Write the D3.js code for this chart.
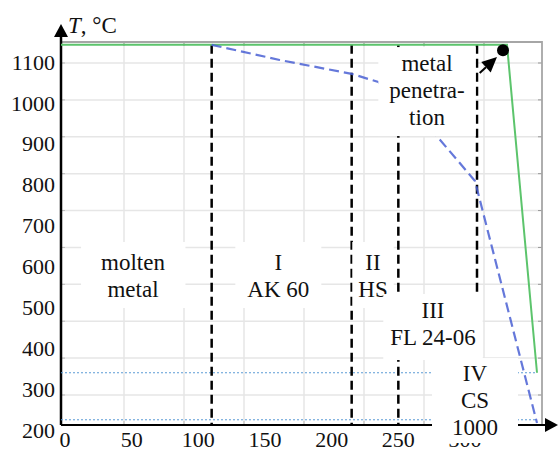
<!DOCTYPE html>
<html><head><meta charset="utf-8">
<script src="https://cdn.jsdelivr.net/npm/d3@7"></script>
<style>body{margin:0;background:#fff}svg{display:block}</style>
</head><body>
<svg id="chart" width="560" height="452"></svg>
<script>
// ---- data ----
const xTicks = [0, 50, 100, 150, 200, 250, 300];
const yTicks = [200, 300, 400, 500, 600, 700, 800, 900, 1000, 1100];
// underlying (background) chart grid values
const gridXValues = [50, 100, 150, 200, 250, 300, 350];
const gridYValues = [200, 300, 400, 500, 600, 700, 800, 900, 1000, 1100];
// green curve (molten metal front)
const greenX = [-3, 331.5, 354];
const greenT = [1142, 1142, 340];
// blue dashed curve
const blueX = [110, 161, 215, 235, 277, 307.5, 354];
const blueT = [1142, 1105, 1071, 1051, 926, 809, 217];
// layer boundaries
const boundaryX = [110, 215, 250, 309];
const boundaryTopT = 1142;
// horizontal reference levels
const levelT = [340, 225];
const levelX = [-3, 354];
// penetration point and arrow
const penX = 328.5, penT = 1129;
const arrowFrom = [311, 1073], arrowTo = [324, 1112];
// labels
const labelLines = [
  ["molten", "metal"],
  ["I", "AK 60"],
  ["II", "HS"],
  ["III", "FL 24-06"],
  ["IV", "CS", "1000"],
  ["metal", "penetra-", "tion"]
];
const labelX = [51, 160, 231, 276, 307.5, 271.5];
const labelT = [611, 611, 611, 493.5, 339.4, 1097.5];

// ---- layout ----
const svg = d3.select("#chart");
const plot = {left: 61, right: 542, top: 42, bottom: 425};
const x = d3.scaleLinear().domain([0, 300]).range([65, 465]);
const y = d3.scaleLinear().domain([200, 1100]).range([430, 62]);
const gx = d3.scaleLinear().domain([0, 400]).range([64, 544]);
const gy = d3.scaleLinear().domain([200, 1100]).range([395, 63]);
const font = "'Liberation Serif', 'Times New Roman', serif";

// grid
const g = svg.append("g");
g.selectAll(".gxl").data(gridXValues).join("line")
  .attr("x1", d => gx(d)).attr("x2", d => gx(d))
  .attr("y1", plot.top).attr("y2", plot.bottom)
  .attr("stroke", "#e6e6e6").attr("stroke-width", 1.5);
g.selectAll(".gyl").data(gridYValues).join("line")
  .attr("y1", d => gy(d)).attr("y2", d => gy(d))
  .attr("x1", plot.left).attr("x2", plot.right)
  .attr("stroke", "#e6e6e6").attr("stroke-width", 1.5);
// small ticks of underlying frame
g.selectAll(".tt").data(gridXValues).join("line")
  .attr("x1", d => gx(d)).attr("x2", d => gx(d))
  .attr("y1", plot.top).attr("y2", plot.top + 4).attr("stroke", "#999");
g.selectAll(".bt").data(gridXValues).join("line")
  .attr("x1", d => gx(d)).attr("x2", d => gx(d))
  .attr("y1", plot.bottom - 4).attr("y2", plot.bottom).attr("stroke", "#bbb");
g.selectAll(".rt").data(gridYValues).join("line")
  .attr("y1", d => gy(d)).attr("y2", d => gy(d))
  .attr("x1", plot.right - 4).attr("x2", plot.right).attr("stroke", "#999");
g.selectAll(".lt").data(gridYValues).join("line")
  .attr("y1", d => gy(d)).attr("y2", d => gy(d))
  .attr("x1", plot.left).attr("x2", plot.left + 4).attr("stroke", "#bbb");
// frame top/right
svg.append("path")
  .attr("d", `M${plot.left},${plot.top}H${plot.right}V${plot.bottom}`)
  .attr("fill", "none").attr("stroke", "#a6a6a6").attr("stroke-width", 1.8);

// axes lines (black with arrows)
svg.append("line").attr("x1", plot.left).attr("x2", 546)
  .attr("y1", plot.bottom).attr("y2", plot.bottom)
  .attr("stroke", "#000").attr("stroke-width", 2);
svg.append("path").attr("d", `M545,${plot.bottom - 7}L558,${plot.bottom}L545,${plot.bottom + 7}Z`).attr("fill", "#000");
svg.append("line").attr("x1", plot.left).attr("x2", plot.left)
  .attr("y1", plot.bottom).attr("y2", 36)
  .attr("stroke", "#000").attr("stroke-width", 2.5);
svg.append("path").attr("d", `M${plot.left - 7},37L${plot.left},24L${plot.left + 7},37Z`).attr("fill", "#000");

// reference levels
svg.selectAll(".lvl").data(levelT).join("line")
  .attr("x1", x(levelX[0])).attr("x2", x(levelX[1]))
  .attr("y1", d => y(d)).attr("y2", d => y(d))
  .attr("stroke", "#5b9bd5").attr("stroke-width", 1).attr("stroke-dasharray", "2,2");

// boundaries
svg.selectAll(".bd").data(boundaryX).join("line")
  .attr("x1", d => x(d)).attr("x2", d => x(d))
  .attr("y1", y(boundaryTopT)).attr("y2", plot.bottom)
  .attr("stroke", "#000").attr("stroke-width", 2.5).attr("stroke-dasharray", "9,5");

// curves
const line = d3.line().x(d => x(d[0])).y(d => y(d[1]));
svg.append("path").datum(greenX.map((v, i) => [v, greenT[i]]))
  .attr("d", line).attr("fill", "none").attr("stroke", "#5cc46c").attr("stroke-width", 2);
svg.append("path").datum(blueX.map((v, i) => [v, blueT[i]]))
  .attr("d", line).attr("fill", "none").attr("stroke", "#4a60d4").attr("stroke-opacity", 0.85)
  .attr("stroke-width", 2.2).attr("stroke-dasharray", "10,5");

// tick labels
svg.selectAll(".xl").data(xTicks).join("text")
  .attr("x", d => x(d)).attr("y", 447).attr("text-anchor", "middle")
  .attr("font-family", font).attr("font-size", 22).attr("fill", "#111").text(d => d);
svg.selectAll(".yl").data(yTicks).join("text")
  .attr("x", 55).attr("y", d => y(d)).attr("dy", "0.35em").attr("text-anchor", "end")
  .attr("font-family", font).attr("font-size", 22).attr("fill", "#111").text(d => d);

// axis title
const tt = svg.append("text").attr("x", 68).attr("y", 33)
  .attr("font-family", font).attr("font-size", 23).attr("fill", "#111");
tt.append("tspan").attr("font-style", "italic").text("T");
tt.append("tspan").text(", °C");

// annotation labels with white boxes
const pads = [
  {px: 20, pt: 8, pb: 6},
  {px: 12, pt: 8, pb: 6},
  {px: 6, pt: 8, pb: 6},
  {px: 7, pt: 4, pb: 10},
  {px: 20, pt: 3, pb: 3},
  {px: 11, pt: 4, pb: 6}
];
const lh = 27;
labelLines.forEach((lines, i) => {
  const grp = svg.append("g");
  const rect = grp.append("rect").attr("fill", "#fff");
  const t = grp.append("text").attr("text-anchor", "middle")
    .attr("font-family", font).attr("font-size", 23).attr("fill", "#111");
  lines.forEach((s, k) => {
    t.append("tspan").attr("x", x(labelX[i])).attr("y", y(labelT[i]) + k * lh)
      .attr("dy", "0.35em").text(s);
  });
  const bb = t.node().getBBox();
  const p = pads[i];
  rect.attr("x", bb.x - p.px).attr("y", bb.y - p.pt)
    .attr("width", bb.width + 2 * p.px).attr("height", bb.height + p.pt + p.pb);
});

// penetration point + arrow
svg.append("circle").attr("cx", x(penX)).attr("cy", y(penT)).attr("r", 6).attr("fill", "#000");
const ax0 = x(arrowFrom[0]), ay0 = y(arrowFrom[1]), ax1 = x(arrowTo[0]), ay1 = y(arrowTo[1]);
const ang = Math.atan2(ay1 - ay0, ax1 - ax0);
const hl = 15, hw = 7;
const bx = ax1 - hl * Math.cos(ang), by = ay1 - hl * Math.sin(ang);
svg.append("line").attr("x1", ax0).attr("y1", ay0).attr("x2", bx).attr("y2", by)
  .attr("stroke", "#000").attr("stroke-width", 2);
svg.append("path").attr("d",
  `M${ax1},${ay1}L${bx + hw * Math.sin(ang)},${by - hw * Math.cos(ang)}L${bx - hw * Math.sin(ang)},${by + hw * Math.cos(ang)}Z`)
  .attr("fill", "#000");
</script>
</body></html>
